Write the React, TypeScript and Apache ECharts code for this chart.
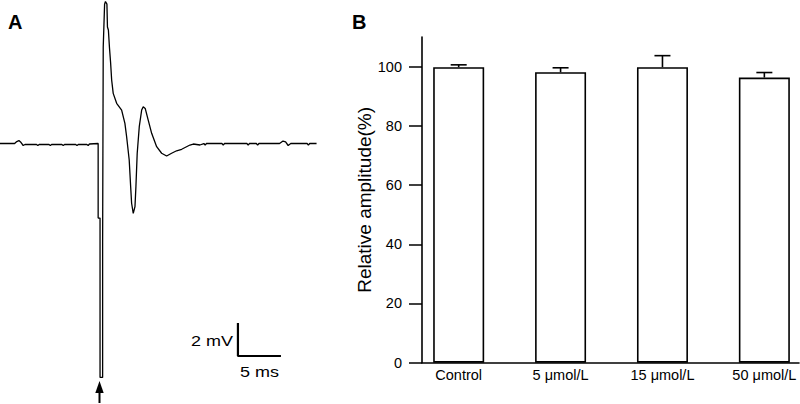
import React, { useEffect, useRef } from "react";
import * as echarts from "echarts";

// ---------- Panel A: evoked field potential trace (time in ms, voltage in mV) ----------
const TRACE_T = [
  -11.5, -9.8, -9.55, -9.3, -9.05, -8.8, -8.6, -7.25, -7.1, -6.95, -5.8, -5.65, -5.5,
  -4.3, -4.15, -4.0, -2.7, -2.55, -2.4, -1.4, -1.25, -1.1, -0.09,
  -0.09, 0.13, 0.13, 0.43, 0.43, 0.5, 0.5, 0.66, 0.76, 0.93, 0.99, 1.1, 1.22, 1.36,
  1.48, 1.66, 2.06, 2.64, 3.02, 3.22, 3.52, 3.69, 3.8, 3.99, 4.19, 4.3, 4.45, 4.69,
  4.97, 5.15, 5.38, 5.73, 6.13, 6.71, 7.29, 7.87, 8.45, 9.03, 9.62, 10.58, 10.97, 11.74,
  12.2, 12.35, 12.5, 14.3, 14.45, 14.6, 17.2, 17.35, 17.5, 18.3, 18.45, 18.6,
  21.0, 21.4, 21.7, 22.0, 22.3, 24.2, 24.35, 24.5, 25.3,
];
const TRACE_V = [
  0, 0, 0.12, 0.18, 0.06, -0.12, -0.06, -0.06, -0.12, -0.06, -0.06, -0.12, -0.06,
  -0.06, -0.12, -0.06, -0.06, -0.12, -0.06, -0.06, -0.12, -0.03, 0,
  -4.52, -4.52, -14.18, -14.18, -6.03, -6.03, 5.85, 8.45, 8.61, 8.45, 7.06, 6.88, 5.85, 4.88,
  3.85, 3.04, 2.44, 2.03, 1.22, 0.41, -1.0, -2.62, -3.62, -4.23, -3.83, -2.62, -0.59, 1.02,
  2.03, 2.23, 2.13, 1.42, 0.62, -0.19, -0.59, -0.76, -0.59, -0.44, -0.35, -0.09, -0.03, -0.09,
  0, -0.1, 0, 0, -0.1, 0, 0, -0.1, 0, 0, -0.1, 0,
  0, 0.15, 0.1, -0.12, 0, 0, -0.1, 0, 0,
];
const SCALE_ORIGIN = [16.16, -12.88]; // [ms, mV]
const SCALE_MV = 2;
const SCALE_MS = 5;

// ---------- Panel B: relative amplitude ----------
const CATEGORIES = ["Control", "5 μmol/L", "15 μmol/L", "50 μmol/L"];
const MEANS = [99.8, 98.1, 99.8, 96.3];
const ERRORS = [0.8, 1.5, 3.9, 1.7];
const Y_TICKS = [0, 20, 40, 60, 80, 100];

const FONT = "'Liberation Sans', Arial, Helvetica, sans-serif";

export default function App() {
  const ref = useRef<HTMLDivElement>(null);

  useEffect(() => {
    document.body.style.margin = "0";
    if (!ref.current) return;
    const chart = echarts.init(ref.current, undefined, { renderer: "svg" });

    const trace = TRACE_T.map((t, i) => [t, TRACE_V[i]]);
    const scaleBar = [
      [SCALE_ORIGIN[0], SCALE_ORIGIN[1] + SCALE_MV],
      [SCALE_ORIGIN[0], SCALE_ORIGIN[1]],
      [SCALE_ORIGIN[0] + SCALE_MS, SCALE_ORIGIN[1]],
    ];
    const bars = MEANS.map((m, i) => [i, m]);
    const errs = MEANS.map((m, i) => [i, m, ERRORS[i]]);

    chart.setOption({
      animation: false,
      textStyle: { fontFamily: FONT },
      grid: [
        { left: 0, top: 0, width: 320, height: 404 },
        { left: 422, top: 37, width: 377, height: 325.7 },
      ],
      xAxis: [
        { gridIndex: 0, type: "value", min: -11.5, max: 25.7, show: false },
        {
          gridIndex: 1,
          type: "value",
          min: -0.36,
          max: 3.34,
          axisLine: { show: true, onZero: false, lineStyle: { color: "#000", width: 1.6 } },
          axisTick: { show: false },
          splitLine: { show: false },
          axisLabel: {
            customValues: [0, 1, 2, 3],
            formatter: (v: number) => CATEGORIES[Math.round(v)] ?? "",
            color: "#000",
            fontSize: 14.5,
            fontFamily: FONT,
            margin: 5,
          },
        },
      ],
      yAxis: [
        { gridIndex: 0, type: "value", min: -15.79, max: 8.7, show: false },
        {
          gridIndex: 1,
          type: "value",
          min: 0,
          max: 110,
          name: "Relative amplitude(%)",
          nameLocation: "middle",
          nameGap: 46,
          nameTextStyle: { fontSize: 19, color: "#000", fontFamily: FONT },
          axisLine: { show: true, onZero: false, lineStyle: { color: "#000", width: 1.6 } },
          axisTick: {
            show: true,
            inside: false,
            length: 13,
            customValues: Y_TICKS,
            lineStyle: { color: "#000", width: 1.5 },
          },
          axisLabel: {
            customValues: Y_TICKS,
            color: "#000",
            fontSize: 14.5,
            fontFamily: FONT,
            margin: 20,
          },
          splitLine: { show: false },
        },
      ],
      series: [
        {
          type: "line",
          xAxisIndex: 0,
          yAxisIndex: 0,
          data: trace,
          showSymbol: false,
          symbol: "none",
          lineStyle: { color: "#000", width: 1.3 },
        },
        {
          type: "line",
          xAxisIndex: 0,
          yAxisIndex: 0,
          data: scaleBar,
          showSymbol: false,
          symbol: "none",
          lineStyle: { color: "#000", width: 2.2 },
        },
        {
          type: "bar",
          xAxisIndex: 1,
          yAxisIndex: 1,
          data: bars,
          barWidth: 51,
          itemStyle: { color: "#fff", borderColor: "#000", borderWidth: 1.6 },
        },
        {
          type: "custom",
          xAxisIndex: 1,
          yAxisIndex: 1,
          z: 5,
          data: errs,
          encode: { x: 0, y: 1 },
          renderItem: (params: any, api: any) => {
            const i = api.value(0);
            const m = api.value(1);
            const e = api.value(2);
            const p0 = api.coord([i, m]);
            const p1 = api.coord([i, m + e]);
            const st = { stroke: "#000", lineWidth: 1.6 };
            return {
              type: "group",
              children: [
                { type: "line", shape: { x1: p0[0], y1: p0[1], x2: p1[0], y2: p1[1] }, style: st },
                { type: "line", shape: { x1: p1[0] - 8, y1: p1[1], x2: p1[0] + 8, y2: p1[1] }, style: st },
              ],
            };
          },
        },
      ],
      graphic: [
        {
          type: "text",
          left: 8,
          top: 12,
          style: { text: "A", font: `bold 20px ${FONT}`, fill: "#000" },
        },
        {
          type: "text",
          left: 352,
          top: 12,
          style: { text: "B", font: `bold 20px ${FONT}`, fill: "#000" },
        },
        {
          type: "text",
          x: 233,
          y: 341,
          scaleX: 1.2,
          style: {
            text: "2 mV",
            font: `15px ${FONT}`,
            fill: "#000",
            align: "right",
            verticalAlign: "middle",
          },
        },
        {
          type: "text",
          x: 259.5,
          y: 372,
          scaleX: 1.2,
          style: {
            text: "5 ms",
            font: `15px ${FONT}`,
            fill: "#000",
            align: "center",
            verticalAlign: "middle",
          },
        },
        {
          type: "polygon",
          shape: { points: [[99.5, 381], [95.3, 393], [103.7, 393]] },
          style: { fill: "#000" },
        },
        {
          type: "line",
          shape: { x1: 99.5, y1: 391, x2: 99.5, y2: 403 },
          style: { stroke: "#000", lineWidth: 2 },
        },
      ],
    });

    return () => chart.dispose();
  }, []);

  return (
    <div
      ref={ref}
      style={{ position: "absolute", left: 0, top: 0, width: 800, height: 404 }}
    />
  );
}
